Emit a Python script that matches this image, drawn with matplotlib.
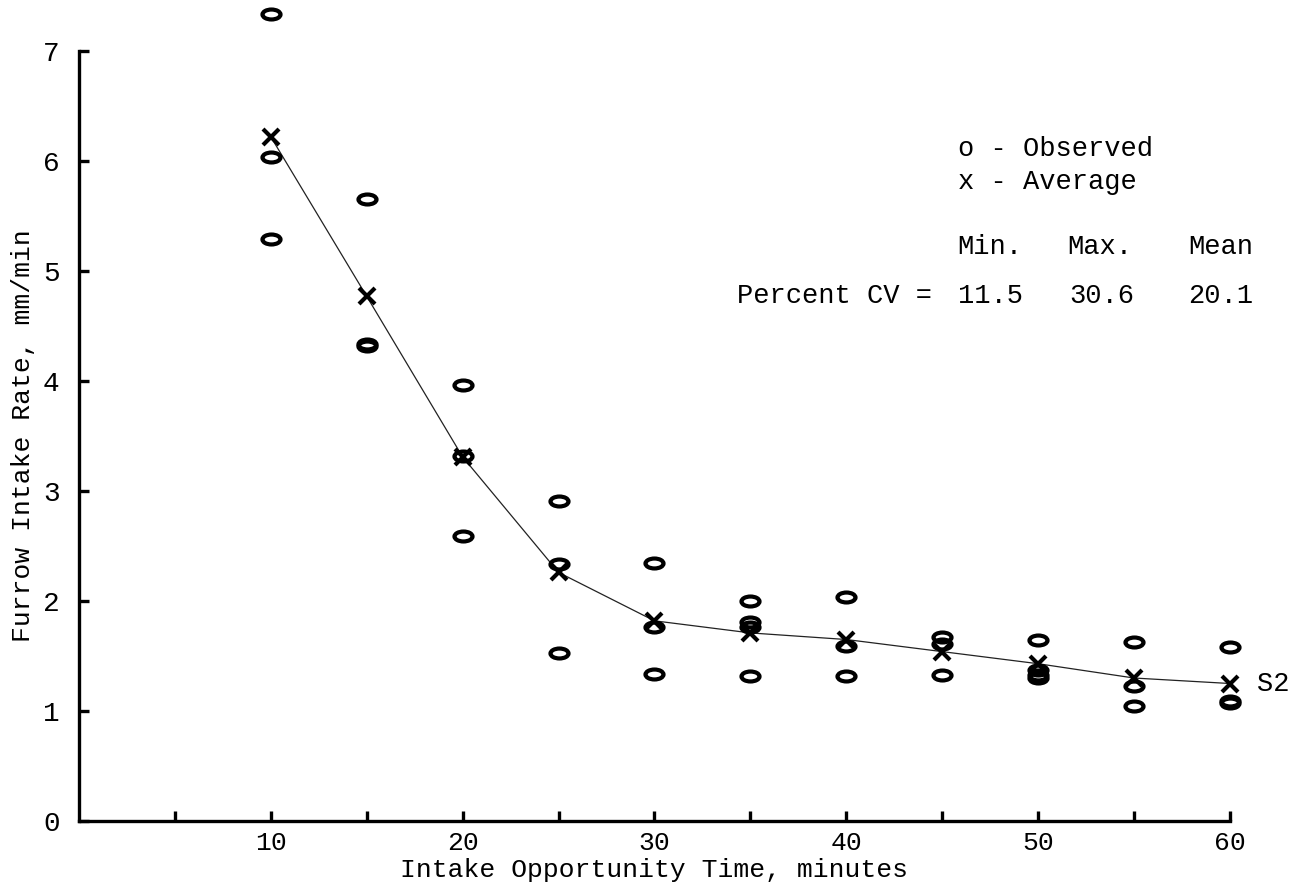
import matplotlib.pyplot as plt
from matplotlib.path import Path
from matplotlib.transforms import Affine2D

# --- data ---
obs_x = [10, 10, 10,
         15, 15, 15,
         20, 20, 20,
         25, 25, 25,
         30, 30, 30,
         35, 35, 35, 35,
         40, 40, 40,
         45, 45, 45,
         50, 50, 50, 50,
         55, 55, 55,
         60, 60, 60]
obs_y = [7.34, 6.04, 5.29,
         5.65, 4.32, 4.34,
         3.96, 3.32, 2.59,
         2.91, 2.34, 1.53,
         2.35, 1.76, 1.34,
         2.00, 1.81, 1.76, 1.32,
         2.04, 1.59, 1.32,
         1.67, 1.61, 1.33,
         1.65, 1.37, 1.33, 1.30,
         1.63, 1.23, 1.05,
         1.58, 1.09, 1.07]

avg_x = [10, 15, 20, 25, 30, 35, 40, 45, 50, 55, 60]
avg_y = [6.22, 4.77, 3.31, 2.26, 1.82, 1.71, 1.65, 1.54, 1.43, 1.30, 1.25]

x_ticks = [5, 10, 15, 20, 25, 30, 35, 40, 45, 50, 55, 60]
x_labels = ["", "10", "", "20", "", "30", "", "40", "", "50", "", "60"]
y_ticks = [0, 1, 2, 3, 4, 5, 6, 7]

plt.rcParams['font.family'] = ['Liberation Mono', 'DejaVu Sans Mono']

fig = plt.figure(figsize=(13.05, 8.93), dpi=100)
ax = fig.add_axes([0.0605, 0.0806, 0.882, 0.8623])

# wide "o" like a typewriter letter
oval = Path.unit_circle().transformed(Affine2D().scale(1.0, 0.55))

ax.plot(avg_x, avg_y, color='#222222', lw=0.9, zorder=2)
ax.plot(obs_x, obs_y, linestyle='none', marker=oval, markersize=13,
        markerfacecolor='none', markeredgecolor='black', markeredgewidth=3.0,
        clip_on=False, zorder=3)
ax.plot(avg_x, avg_y, linestyle='none', marker='x', markersize=11,
        markeredgecolor='black', markeredgewidth=3.0, clip_on=False, zorder=4)

ax.set_xlim(0, 60)
ax.set_ylim(0, 7)
ax.set_xticks(x_ticks)
ax.set_xticklabels(x_labels)
ax.set_yticks(y_ticks)

for s in ['top', 'right']:
    ax.spines[s].set_visible(False)
for s in ['left', 'bottom']:
    ax.spines[s].set_linewidth(2.4)

ax.tick_params(axis='both', direction='in', length=7, width=2.4, labelsize=19)
ax.tick_params(axis='y', pad=14, labelsize=20)
ax.tick_params(axis='x', pad=7)

ax.set_xlabel("Intake Opportunity Time, minutes", fontsize=19, labelpad=2)
ax.set_ylabel("Furrow Intake Rate, mm/min", fontsize=19, labelpad=6)

# legend & CV block written as plain text, like on the original
fs = 19.5
ax.text(45.8, 6.11, "o - Observed", fontsize=fs, va='center')
ax.text(45.8, 5.81, "x - Average", fontsize=fs, va='center')
ax.text(45.8, 5.22, "Min.", fontsize=fs, va='center')
ax.text(51.5, 5.22, "Max.", fontsize=fs, va='center')
ax.text(57.8, 5.22, "Mean", fontsize=fs, va='center')
ax.text(34.3, 4.77, "Percent CV =", fontsize=fs, va='center')
ax.text(45.8, 4.77, "11.5", fontsize=fs, va='center')
ax.text(51.6, 4.77, "30.6", fontsize=fs, va='center')
ax.text(57.8, 4.77, "20.1", fontsize=fs, va='center')
ax.text(61.4, 1.25, "S2", fontsize=fs, va='center', clip_on=False)

plt.savefig("out.png", dpi=100)
